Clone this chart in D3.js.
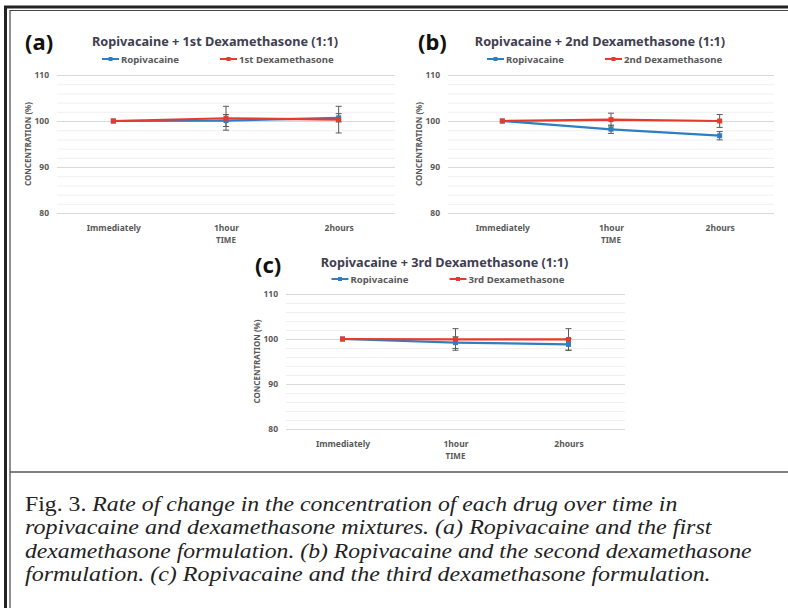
<!DOCTYPE html>
<html>
<head>
<meta charset="utf-8">
<script src="https://cdn.jsdelivr.net/npm/d3@7"></script>
<style>
  body { margin: 0; background: #fff; }
  svg { display: block; }
  .cap { font-family: "Liberation Serif", "Times New Roman", Times, serif; }
</style>
</head>
<body>
<svg id="fig" width="788" height="608"></svg>
<script>
// categories and tick values
const timePoints = ["Immediately", "1hour", "2hours"];
const yTicks = [80, 90, 100, 110];
const yMinor = [82, 84, 86, 88, 92, 94, 96, 98, 102, 104, 106, 108];

// (a) ropivacaine + 1st dexamethasone
const ropiA = [100, 100.1, 100.7];
const ropiErrA = [0, 1.3, 0.9];
const dexaA = [100, 100.6, 100.3];
const dexaErrA = [0, 2.6, 2.9];

// (b) ropivacaine + 2nd dexamethasone
const ropiB = [100, 98.2, 96.8];
const ropiErrB = [0, 0.9, 0.9];
const dexaB = [100, 100.3, 100.0];
const dexaErrB = [0, 1.4, 1.4];

// (c) ropivacaine + 3rd dexamethasone
const ropiC = [100, 99.2, 98.8];
const ropiErrC = [0, 1.3, 1.3];
const dexaC = [100, 99.9, 99.9];
const dexaErrC = [0, 2.4, 2.4];

const captionLines = [
  ["Fig. 3. ", "Rate of  change in the concentration of  each drug over time in"],
  ["", "ropivacaine and dexamethasone mixtures. (a) Ropivacaine and the first"],
  ["", "dexamethasone formulation. (b) Ropivacaine and the second dexamethasone"],
  ["", "formulation. (c) Ropivacaine and the third dexamethasone formulation."]
];

const blue = "#2f7ec4";
const red = "#e63b2c";
const font = "'Noto Sans', 'Open Sans', sans-serif";

const svg = d3.select("#fig");

// frame
svg.append("rect").attr("width", 788).attr("height", 608).attr("fill", "#fff");
svg.append("line").attr("x1", 5.5).attr("x2", 5.5).attr("y1", 6).attr("y2", 608)
  .attr("stroke", "#222").attr("stroke-width", 3);
svg.append("line").attr("x1", 4).attr("x2", 788).attr("y1", 7).attr("y2", 7)
  .attr("stroke", "#222").attr("stroke-width", 3);
svg.append("line").attr("x1", 10).attr("x2", 10).attr("y1", 10).attr("y2", 608)
  .attr("stroke", "#444").attr("stroke-width", 1.2);
svg.append("line").attr("x1", 10).attr("x2", 788).attr("y1", 10.5).attr("y2", 10.5)
  .attr("stroke", "#444").attr("stroke-width", 1.2);
svg.append("line").attr("x1", 10).attr("x2", 788).attr("y1", 472).attr("y2", 472)
  .attr("stroke", "#555").attr("stroke-width", 1.5);

const panels = [
  {tag: "(a)", title: "Ropivacaine + 1st Dexamethasone (1:1)", dexaName: "1st Dexamethasone",
   ropi: ropiA, ropiErr: ropiErrA, dexa: dexaA, dexaErr: dexaErrA,
   left: 57, right: 395, top: 75, bottom: 213, titleY: 46, legendY: 59, tagX: 25, tagY: 50},
  {tag: "(b)", title: "Ropivacaine + 2nd Dexamethasone (1:1)", dexaName: "2nd Dexamethasone",
   ropi: ropiB, ropiErr: ropiErrB, dexa: dexaB, dexaErr: dexaErrB,
   left: 448, right: 774, top: 75, bottom: 213, titleY: 46, legendY: 59, tagX: 418, tagY: 50},
  {tag: "(c)", title: "Ropivacaine + 3rd Dexamethasone (1:1)", dexaName: "3rd Dexamethasone",
   ropi: ropiC, ropiErr: ropiErrC, dexa: dexaC, dexaErr: dexaErrC,
   left: 286, right: 625, top: 294, bottom: 429, titleY: 267, legendY: 279, tagX: 255, tagY: 273}
];

panels.forEach(p => drawPanel(p));

function drawPanel(p) {
  const g = svg.append("g");
  const x = d3.scalePoint().domain(timePoints).range([p.left, p.right]).padding(0.5);
  const y = d3.scaleLinear().domain([80, 110]).range([p.bottom, p.top]);
  const cx = (p.left + p.right) / 2 - 11;

  // minor + major gridlines
  g.selectAll(".minor").data(yMinor).enter().append("line")
    .attr("x1", p.left).attr("x2", p.right)
    .attr("y1", d => y(d) + 0.5).attr("y2", d => y(d) + 0.5)
    .attr("stroke", "#f0f0f0").attr("stroke-width", 1);

  const yAxis = d3.axisLeft(y).tickValues(yTicks).tickSize(-(p.right - p.left)).tickPadding(8);
  const ax = g.append("g").attr("transform", `translate(${p.left},0)`).call(yAxis);
  ax.select(".domain").remove();
  ax.selectAll(".tick line").attr("stroke", "#d9d9d9");
  ax.selectAll(".tick text").attr("x", -8)
    .style("font-family", font).style("font-size", "8.5px").style("font-weight", 700).attr("fill", "#595959");

  const xAxis = d3.axisBottom(x).tickSize(0).tickPadding(12);
  const bx = g.append("g").attr("transform", `translate(0,${p.bottom})`).call(xAxis);
  bx.select(".domain").remove();
  bx.selectAll(".tick text")
    .style("font-family", font).style("font-size", "8.5px").style("font-weight", 700).attr("fill", "#595959");

  g.append("text").attr("x", (p.left + p.right) / 2).attr("y", p.bottom + 30)
    .attr("text-anchor", "middle").style("font-family", font).style("font-size", "8px")
    .style("font-weight", 700).attr("fill", "#595959").text("TIME");

  g.append("text")
    .attr("transform", `translate(${p.left - 26},${(p.top + p.bottom) / 2}) rotate(-90)`)
    .attr("text-anchor", "middle").style("font-family", font).style("font-size", "8px")
    .style("font-weight", 700).attr("fill", "#595959").text("CONCENTRATION (%)");

  // title, tag
  g.append("text").attr("x", cx).attr("y", p.titleY).attr("text-anchor", "middle")
    .style("font-family", font).style("font-size", "12.7px").style("font-weight", 700)
    .attr("fill", "#404050").text(p.title);
  g.append("text").attr("x", p.tagX).attr("y", p.tagY)
    .style("font-family", font).style("font-size", "22px").style("font-weight", 700)
    .attr("fill", "#111").text(p.tag);

  // legend
  const legend = [
    {name: "Ropivacaine", color: blue, x: cx - 113},
    {name: p.dexaName, color: red, x: cx + 5}
  ];
  const lg = g.selectAll(".lg").data(legend).enter().append("g")
    .attr("transform", d => `translate(${d.x},${p.legendY})`);
  lg.append("line").attr("x1", 0).attr("x2", 17).attr("stroke", d => d.color).attr("stroke-width", 2);
  lg.append("rect").attr("x", 6.5).attr("y", -2).attr("width", 4).attr("height", 4).attr("fill", d => d.color);
  lg.append("text").attr("x", 19).attr("y", 3.5)
    .style("font-family", font).style("font-size", "9.6px").style("font-weight", 700)
    .attr("fill", "#595959").text(d => d.name);

  // series
  const series = [
    {vals: p.ropi, err: p.ropiErr, color: blue},
    {vals: p.dexa, err: p.dexaErr, color: red}
  ];
  const line = d3.line().x((d, i) => x(timePoints[i])).y(d => y(d));
  series.forEach(s => {
    g.append("path").datum(s.vals).attr("d", line).attr("fill", "none")
      .attr("stroke", s.color).attr("stroke-width", 2.2);
  });
  series.forEach(s => {
    const pts = s.vals.map((v, i) => ({t: timePoints[i], v: v, e: s.err[i]})).filter(d => d.e > 0);
    const eb = g.selectAll(null).data(pts).enter().append("g").attr("stroke", "#5a5a5a").attr("stroke-width", 1);
    eb.append("line").attr("x1", d => x(d.t)).attr("x2", d => x(d.t))
      .attr("y1", d => y(d.v - d.e)).attr("y2", d => y(d.v + d.e));
    eb.append("line").attr("x1", d => x(d.t) - 3).attr("x2", d => x(d.t) + 3)
      .attr("y1", d => y(d.v + d.e)).attr("y2", d => y(d.v + d.e));
    eb.append("line").attr("x1", d => x(d.t) - 3).attr("x2", d => x(d.t) + 3)
      .attr("y1", d => y(d.v - d.e)).attr("y2", d => y(d.v - d.e));
  });
  series.forEach(s => {
    g.selectAll(null).data(s.vals).enter().append("rect")
      .attr("x", (d, i) => x(timePoints[i]) - 2.5).attr("y", d => y(d) - 2.5)
      .attr("width", 5).attr("height", 5).attr("fill", s.color);
  });
}

// caption, squeezed to the condensed width of the original face
const lineEnds = [678, 712, 752, 711];
captionLines.forEach((ln, i) => {
  const t = svg.append("text").attr("class", "cap").attr("y", 0)
    .style("font-size", "21px").attr("fill", "#222");
  if (ln[0]) t.append("tspan").text(ln[0]);
  t.append("tspan").style("font-style", "italic").text(ln[1]);
  const w = t.node().getComputedTextLength();
  const k = (lineEnds[i] - 25) / w;
  t.attr("transform", `translate(25,${511 + i * 23.4}) scale(${k},1)`);
});
</script>
</body>
</html>
